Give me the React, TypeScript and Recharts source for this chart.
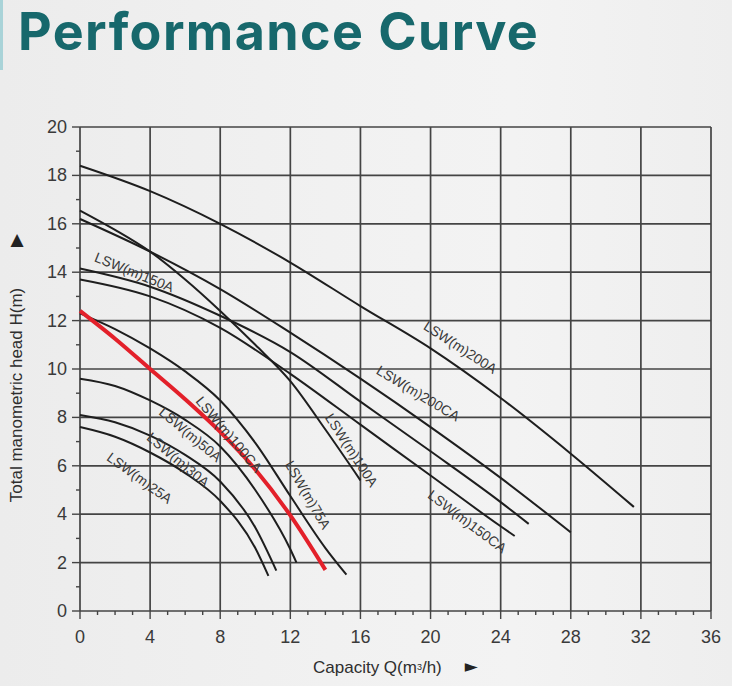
import React from 'react';
import { LineChart, Line, XAxis, YAxis, CartesianGrid, ReferenceDot } from 'recharts';

// pump curves, Q in m3/h, H in m
const lsw200A = [
  { q: 0, h: 18.4 }, { q: 4, h: 17.35 }, { q: 8, h: 16.0 }, { q: 12, h: 14.4 }, { q: 16, h: 12.6 },
  { q: 20, h: 10.85 }, { q: 24, h: 8.8 }, { q: 28, h: 6.5 }, { q: 31.6, h: 4.3 },
];
const lsw200CA = [
  { q: 0, h: 16.2 }, { q: 4, h: 14.85 }, { q: 8, h: 13.3 }, { q: 12, h: 11.5 }, { q: 16, h: 9.6 },
  { q: 20, h: 7.6 }, { q: 24, h: 5.5 }, { q: 28, h: 3.25 },
];
const lsw100A = [
  { q: 0, h: 16.55 }, { q: 2, h: 15.75 }, { q: 4, h: 14.85 }, { q: 6, h: 13.7 }, { q: 8, h: 12.4 },
  { q: 10, h: 11.0 }, { q: 12, h: 9.5 }, { q: 14, h: 7.5 }, { q: 16, h: 5.4 },
];
const lsw150A = [
  { q: 0, h: 14.15 }, { q: 4, h: 13.4 }, { q: 8, h: 12.2 }, { q: 12, h: 10.7 }, { q: 16, h: 8.65 },
  { q: 20, h: 6.6 }, { q: 24, h: 4.5 }, { q: 25.6, h: 3.6 },
];
const lsw150CA = [
  { q: 0, h: 13.7 }, { q: 4, h: 13.0 }, { q: 8, h: 11.7 }, { q: 12, h: 9.8 }, { q: 16, h: 7.7 },
  { q: 20, h: 5.6 }, { q: 24, h: 3.5 }, { q: 24.8, h: 3.1 },
];
const lsw75A = [
  { q: 0, h: 12.3 }, { q: 2, h: 11.65 }, { q: 4, h: 10.85 }, { q: 6, h: 9.9 }, { q: 8, h: 8.7 },
  { q: 10, h: 6.95 }, { q: 12, h: 4.75 }, { q: 14, h: 2.6 }, { q: 15.2, h: 1.5 },
];
const lsw100CA = [
  { q: 0, h: 12.4 }, { q: 2, h: 11.25 }, { q: 4, h: 10.0 }, { q: 6, h: 8.75 }, { q: 8, h: 7.4 },
  { q: 10, h: 5.85 }, { q: 12, h: 3.95 }, { q: 14, h: 1.7 },
];
const lsw50A = [
  { q: 0, h: 9.6 }, { q: 2, h: 9.3 }, { q: 4, h: 8.7 }, { q: 6, h: 7.9 }, { q: 8, h: 6.8 },
  { q: 10, h: 5.0 }, { q: 12, h: 2.55 }, { q: 12.35, h: 2.0 },
];
const lsw30A = [
  { q: 0, h: 8.1 }, { q: 2, h: 7.8 }, { q: 4, h: 7.25 }, { q: 6, h: 6.45 }, { q: 8, h: 5.35 },
  { q: 10, h: 3.45 }, { q: 11.2, h: 1.67 },
];
const lsw25A = [
  { q: 0, h: 7.6 }, { q: 2, h: 7.2 }, { q: 4, h: 6.55 }, { q: 6, h: 5.7 }, { q: 8, h: 4.55 },
  { q: 10, h: 2.6 }, { q: 10.75, h: 1.45 },
];

const qTicks = Array.from({ length: 37 }, (_, i) => i);
const hTicks = Array.from({ length: 21 }, (_, i) => i);
const qGrid = [0, 4, 8, 12, 16, 20, 24, 28, 32, 36];
const hGrid = [0, 2, 4, 6, 8, 10, 12, 14, 16, 18, 20];

const series = [
  { name: 'LSW(m)200A', data: lsw200A, color: '#1e1e1e', width: 2 },
  { name: 'LSW(m)200CA', data: lsw200CA, color: '#1e1e1e', width: 2 },
  { name: 'LSW(m)100A', data: lsw100A, color: '#1e1e1e', width: 2 },
  { name: 'LSW(m)150A', data: lsw150A, color: '#1e1e1e', width: 2 },
  { name: 'LSW(m)150CA', data: lsw150CA, color: '#1e1e1e', width: 2 },
  { name: 'LSW(m)75A', data: lsw75A, color: '#1e1e1e', width: 2 },
  { name: 'LSW(m)50A', data: lsw50A, color: '#1e1e1e', width: 2 },
  { name: 'LSW(m)30A', data: lsw30A, color: '#1e1e1e', width: 2 },
  { name: 'LSW(m)25A', data: lsw25A, color: '#1e1e1e', width: 2 },
  { name: 'LSW(m)100CA', data: lsw100CA, color: '#e3202a', width: 4 },
];

// where each curve name sits, in chart units, and its slant
const curveLabels = [
  { text: 'LSW(m)200A', q: 21.7, h: 10.9, angle: 33 },
  { text: 'LSW(m)200CA', q: 19.3, h: 9.0, angle: 31 },
  { text: 'LSW(m)150CA', q: 22.1, h: 3.7, angle: 37 },
  { text: 'LSW(m)150A', q: 3.1, h: 14.0, angle: 22 },
  { text: 'LSW(m)100A', q: 15.5, h: 6.65, angle: 57 },
  { text: 'LSW(m)75A', q: 13.0, h: 4.8, angle: 60 },
  { text: 'LSW(m)100CA', q: 8.5, h: 7.3, angle: 50 },
  { text: 'LSW(m)50A', q: 6.3, h: 7.3, angle: 40 },
  { text: 'LSW(m)30A', q: 5.6, h: 6.25, angle: 40 },
  { text: 'LSW(m)25A', q: 3.4, h: 5.5, angle: 36 },
];

const tickFont = '"Liberation Sans", Arial, sans-serif';

const XTick = (props: any) => {
  const { x, y, payload } = props;
  const major = payload.value % 4 === 0;
  return (
    <g>
      <line x1={x} x2={x} y1={y} y2={y + (major ? 8 : 4)} stroke="#444" strokeWidth={1.4} />
      {major && (
        <text x={x} y={y + 32} textAnchor="middle" fontSize={18} fill="#3a3a3a" fontFamily={tickFont}>
          {payload.value}
        </text>
      )}
    </g>
  );
};

const YTick = (props: any) => {
  const { x, y, payload } = props;
  const major = payload.value % 2 === 0;
  return (
    <g>
      <line x1={x - (major ? 8 : 4)} x2={x} y1={y} y2={y} stroke="#444" strokeWidth={1.4} />
      {major && (
        <text x={x - 13} y={y + 6} textAnchor="end" fontSize={18} fill="#3a3a3a" fontFamily={tickFont}>
          {payload.value}
        </text>
      )}
    </g>
  );
};

const CurveName = (text: string, angle: number) => (props: any) => {
  const { viewBox } = props;
  const cx = viewBox.x + viewBox.width / 2;
  const cy = viewBox.y + viewBox.height / 2;
  return (
    <text
      x={cx}
      y={cy}
      transform={`rotate(${angle} ${cx} ${cy})`}
      textAnchor="middle"
      dominantBaseline="central"
      fontSize={14}
      fill="#3a3a3a"
      fontFamily={tickFont}
    >
      {text}
    </text>
  );
};

export default function App() {
  return (
    <div
      style={{
        position: 'absolute',
        left: 0,
        top: 0,
        width: 732,
        height: 686,
        background: 'linear-gradient(90deg, #ececec 0%, #f1f1f1 45%, #f3f3f3 70%, #eeeeee 100%)',
        overflow: 'hidden',
      }}
    >
      <div style={{ position: 'absolute', left: 0, top: 0, width: 3, height: 70, background: '#a9d3d8' }} />

      <LineChart width={732} height={686} margin={{ top: 127, right: 21, bottom: 0, left: 0 }}>
        <CartesianGrid
          stroke="#444444"
          strokeWidth={1.7}
          verticalValues={qGrid}
          horizontalValues={hGrid}
        />
        <XAxis
          dataKey="q"
          type="number"
          domain={[0, 36]}
          ticks={qTicks}
          interval={0}
          height={75}
          tickSize={0}
          tickMargin={0}
          axisLine={false}
          tickLine={false}
          tick={<XTick />}
        />
        <YAxis
          type="number"
          domain={[0, 20]}
          ticks={hTicks}
          interval={0}
          width={80}
          tickSize={0}
          tickMargin={0}
          axisLine={false}
          tickLine={false}
          tick={<YTick />}
        />
        {series.map((s) => (
          <Line
            key={s.name}
            data={s.data}
            dataKey="h"
            name={s.name}
            type="monotone"
            stroke={s.color}
            strokeWidth={s.width}
            dot={false}
            activeDot={false}
            isAnimationActive={false}
          />
        ))}
        {curveLabels.map((l) => (
          <ReferenceDot
            key={l.text}
            x={l.q}
            y={l.h}
            r={0}
            fill="none"
            stroke="none"
            label={CurveName(l.text, l.angle)}
          />
        ))}
      </LineChart>

      <div
        style={{
          position: 'absolute',
          left: 18,
          top: 0,
          fontFamily: 'Inter, sans-serif',
          fontWeight: 700,
          fontSize: 52,
          lineHeight: 'normal',
          color: '#17686c',
          letterSpacing: 1.4,
          whiteSpace: 'nowrap',
        }}
      >
        Performance Curve
      </div>
      <div
        style={{
          position: 'absolute',
          left: 17,
          top: 395,
          transform: 'translate(-50%, -50%) rotate(-90deg)',
          fontFamily: tickFont,
          fontSize: 17,
          color: '#2e2e2e',
          whiteSpace: 'nowrap',
        }}
      >
        Total manometric head H(m)
      </div>
      <div
        style={{
          position: 'absolute',
          left: 17,
          top: 239,
          transform: 'translate(-50%, -50%)',
          fontSize: 17,
          color: '#222',
          fontFamily: '"DejaVu Sans", sans-serif',
        }}
      >
        ▲
      </div>
      <div
        style={{
          position: 'absolute',
          left: 313,
          top: 657,
          fontFamily: tickFont,
          fontSize: 17,
          lineHeight: '20px',
          color: '#2e2e2e',
          whiteSpace: 'nowrap',
        }}
      >
        Capacity Q(m<sup style={{ fontSize: 9, verticalAlign: 'top' }}>3</sup>/h)
        <span
          style={{
            fontSize: 17,
            marginLeft: 23,
            position: 'relative',
            top: -1,
            color: '#222',
            fontFamily: '"DejaVu Sans", sans-serif',
          }}
        >
          ►
        </span>
      </div>
    </div>
  );
}
